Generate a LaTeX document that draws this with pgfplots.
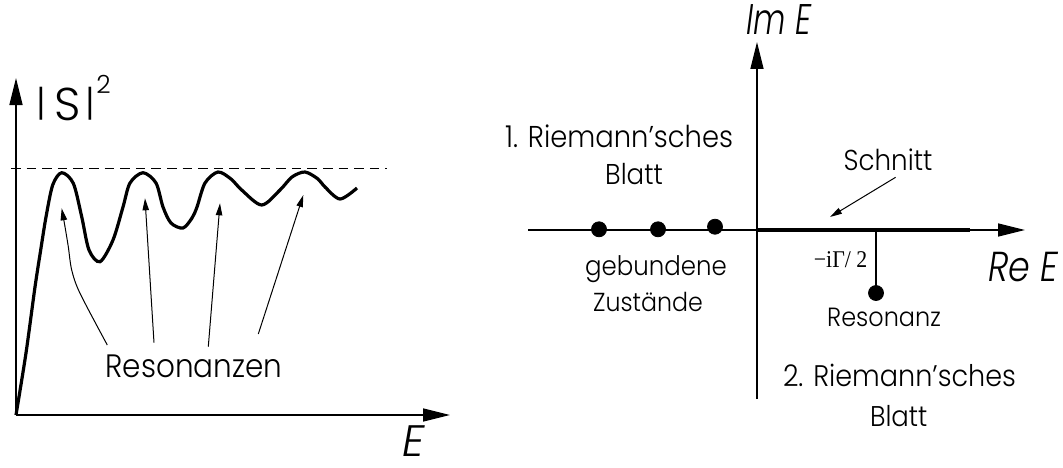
\documentclass[border=0pt]{standalone}
\usepackage{fontspec}
\setmainfont{Poppins}[UprightFont={* Light}, ItalicFont={* Light Italic}]
\newfontfamily\greekserif{Liberation Serif}
\usepackage{graphicx}
\usepackage{pgfplots}
\pgfplotsset{compat=1.18}
\usetikzlibrary{arrows.meta}

% set a label to a given width, slightly taller letters
\newcommand\fitw[2]{\resizebox{#1}{!}{\scalebox{1}[1.1]{#2}}}
% set a label to a given width with a given vertical stretch
\newcommand\fitws[3]{\resizebox{#1}{!}{\scalebox{1}[#2]{#3}}}
% vertical bar standing on the baseline, cap height tall
\newcommand\sbar{\resizebox{!}{16.5pt}{\raisebox{\depth}{|}}}
% drop the depth of a box
\newcommand\nodepth[1]{\raisebox{0pt}[\height][0pt]{#1}}

\tikzset{
  bigarrow/.style={-{Triangle[length=13.5pt,width=6.5pt]}},
  smallarrow/.style={line width=0.5pt,-{Triangle[length=6pt,width=3.2pt]}},
}

\begin{document}
\begin{tikzpicture}
\useasboundingbox (0,0) rectangle (531.5pt,-233.5pt);

% |S|^2 against E
\begin{axis}[
  at={(8pt,-207.5pt)}, anchor=south west,
  scale only axis, width=217pt, height=168.5pt,
  xmin=0, xmax=434, ymin=0, ymax=337,
  axis lines*=left, ticks=none,
  axis line style={line width=0.75pt, bigarrow},
  clip=false,
]
\addplot[line width=0.7pt, dash pattern=on 4.8pt off 3pt] coordinates {(-5,246.7) (371,246.7)};
\addplot[line width=1.6pt, smooth, tension=0.5] coordinates {
  (0,0) (10,62) (19,128) (24.7,165) (30,198) (36.7,230) (45.7,242.3)
  (57.3,231.7) (65.7,198.3) (73,165) (84,153.3)
  (97,175) (107,208) (114,232) (127,242.3)
  (140,232) (147,208) (155,192) (167,187)
  (176,197) (181,208) (189,232) (202,243)
  (215,236) (225.7,225) (245.7,210)
  (264,225) (276,238) (289,243)
  (302,236) (309,228) (324,216) (341,227)
};
\addplot[smallarrow, smooth] coordinates {(91.3,70) (64,121.7) (55.7,145) (52.3,168.3) (49,188.3) (45.7,206.7)};
\addplot[smallarrow] coordinates {(138,72.3) (129,216.7)};
\addplot[smallarrow] coordinates {(192.3,68.3) (204,211.7)};
\addplot[smallarrow] coordinates {(242.3,81) (287.3,220)};
\node[anchor=base] at (axis cs:178,38) {\fitw{88.3pt}{Resonanzen}};
% |S|^2
\node[anchor=base, inner sep=0pt] at (axis cs:25.5,295) {\fontsize{23pt}{27pt}\selectfont\sbar};
\node[anchor=base, inner sep=0pt] at (axis cs:51.5,295) {\fontsize{23pt}{27pt}\selectfont S};
\node[anchor=base, inner sep=0pt] at (axis cs:74.5,295) {\fontsize{23pt}{27pt}\selectfont\sbar};
\node[anchor=base, inner sep=0pt] at (axis cs:87.5,321.7) {\fontsize{12.5pt}{14pt}\selectfont 2};
\node[anchor=base, inner sep=0pt] at (axis cs:398,-41) {\nodepth{\fontsize{22pt}{26pt}\selectfont\itshape E}};
\end{axis}

% complex energy plane
\begin{axis}[
  at={(264pt,-199.5pt)}, anchor=south west,
  scale only axis, width=248.5pt, height=178.5pt,
  xmin=-229, xmax=268, ymin=-169, ymax=188,
  axis lines*=middle, ticks=none,
  axis line style={line width=0.75pt, bigarrow},
  clip=false,
]
\addplot[line width=2pt] coordinates {(0,0) (213,0)};
\addplot[line width=0.6pt] coordinates {(119,0) (119,-63)};
\addplot[only marks, mark=*, mark size=3.75pt] coordinates {(-158,0.7) (-99,0.7) (-42,3.3)};
\addplot[only marks, mark=*, mark size=3.75pt] coordinates {(119,-63)};
\addplot[smallarrow] coordinates {(138.6,52.7) (73,13)};
\node[anchor=base, inner sep=0pt] at (axis cs:22,195) {\fitws{32.5pt}{1.35}{\itshape Im E}};
\node[anchor=base, inner sep=0pt] at (axis cs:266,-51.7) {\fitws{35pt}{1.2}{\itshape Re E}};
\node[anchor=base] at (axis cs:-138,82) {\fitw{114pt}{1. Riemann’sches}};
\node[anchor=base] at (axis cs:-123,46) {\fitw{28.8pt}{Blatt}};
\node[anchor=base] at (axis cs:131,60) {\fitw{44.4pt}{Schnitt}};
\node[anchor=base] at (axis cs:-101,-45) {\fitw{70.8pt}{gebundene}};
\node[anchor=base] at (axis cs:-109,-81.7) {\fitw{54.8pt}{Zustände}};
\node[anchor=base] at (axis cs:83.6,-37) {\fitw{26.7pt}{\greekserif −iΓ/ 2}};
\node[anchor=base] at (axis cs:127,-96.7) {\fitw{56.8pt}{Resonanz}};
\node[anchor=base] at (axis cs:142.5,-156.7) {\fitw{116.5pt}{2. Riemann’sches}};
\node[anchor=base] at (axis cs:141.7,-196) {\fitw{28.7pt}{Blatt}};
\end{axis}
\end{tikzpicture}
\end{document}
